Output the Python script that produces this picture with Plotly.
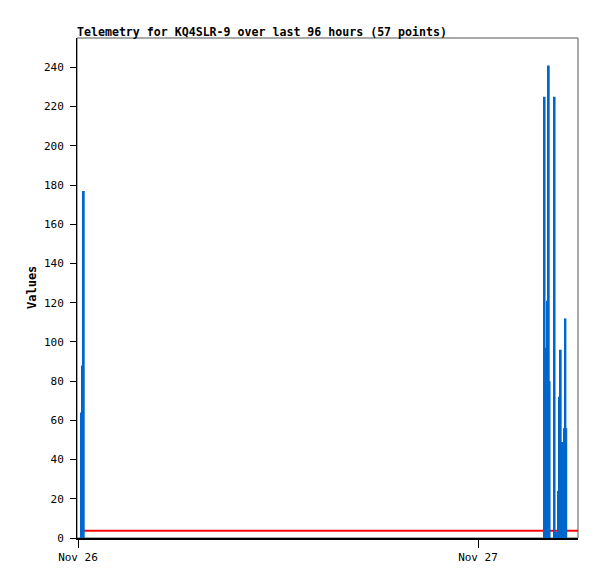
import plotly.graph_objs as go

# telemetry samples (visible ones), time and value
times = ['2023-11-26 00:13', '2023-11-26 00:16', '2023-11-26 00:21',
         '2023-11-27 04:00', '2023-11-27 04:05', '2023-11-27 04:09',
         '2023-11-27 04:15', '2023-11-27 04:18', '2023-11-27 04:36',
         '2023-11-27 04:41', '2023-11-27 04:44', '2023-11-27 04:50',
         '2023-11-27 04:53', '2023-11-27 04:58', '2023-11-27 05:02',
         '2023-11-27 05:11', '2023-11-27 05:15', '2023-11-27 05:18']
values = [64, 88, 177,
          225, 97, 121,
          241, 80, 225,
          3, 2, 24,
          72, 96, 49,
          56, 112, 56]

# reference line
ref_times = ['2023-11-26 00:13', '2023-11-27 06:00']
ref_values = [3.7, 3.7]

x_tickvals = ['2023-11-26', '2023-11-27']
x_ticktext = ['Nov 26', 'Nov 27']
y_tickvals = list(range(0, 241, 20))

title = 'Telemetry for KQ4SLR-9 over last 96 hours (57 points)'

bar_trace = go.Bar(x=times, y=values, width=[380000] * len(times),
                   marker=dict(color='#0066cc', line=dict(width=0)), name='values')

# the page body adds an 8px offset, so the figure is drawn 8px smaller
W, H = 589, 571
mono = 'DejaVu Sans Mono'
layout = go.Layout(
    width=W, height=H,
    margin=dict(l=69, r=19, t=30, b=41),
    paper_bgcolor='white', plot_bgcolor='white',
    showlegend=False, barmode='overlay',
    title=dict(text='<b>' + title + '</b>', x=0, xref='paper', xanchor='left',
               y=1 - 23.5 / H, yref='container', yanchor='middle',
               font=dict(family=mono, size=11.6, color='black')),
    xaxis=dict(type='date', range=['2023-11-25 23:56:24', '2023-11-27 06:00'],
               tickvals=x_tickvals, ticktext=x_ticktext, automargin=False,
               ticks='outside', ticklen=8, tickcolor='black',
               showgrid=False, zeroline=False,
               showline=True, linecolor='black', linewidth=2,
               tickfont=dict(family=mono, size=11, color='black')),
    yaxis=dict(range=[0, 255], tickvals=y_tickvals, automargin=False,
               ticks='outside', ticklen=6, tickcolor='black', ticklabelstandoff=4,
               showgrid=False, zeroline=False,
               showline=True, linecolor='black', linewidth=1,
               tickfont=dict(family=mono, size=11, color='black')),
    shapes=[dict(type='rect', xref='paper', yref='paper', x0=0, x1=1, y0=0, y1=1,
                 line=dict(color='#555555', width=1), layer='below'),
            dict(type='line', xref='x', yref='y', x0=ref_times[0], x1=ref_times[1],
                 y0=ref_values[0], y1=ref_values[1],
                 line=dict(color='#ff0000', width=2), layer='below')],
    annotations=[dict(text='<b>Values</b>', textangle=-90, x=(24 - 69) / 501, y=0.5,
                      xref='paper', yref='paper', xanchor='center', yanchor='middle',
                      showarrow=False,
                      font=dict(family=mono, size=12, color='black'))],
)

fig = go.Figure(data=[bar_trace], layout=layout)
fig.write_html('out.html')
